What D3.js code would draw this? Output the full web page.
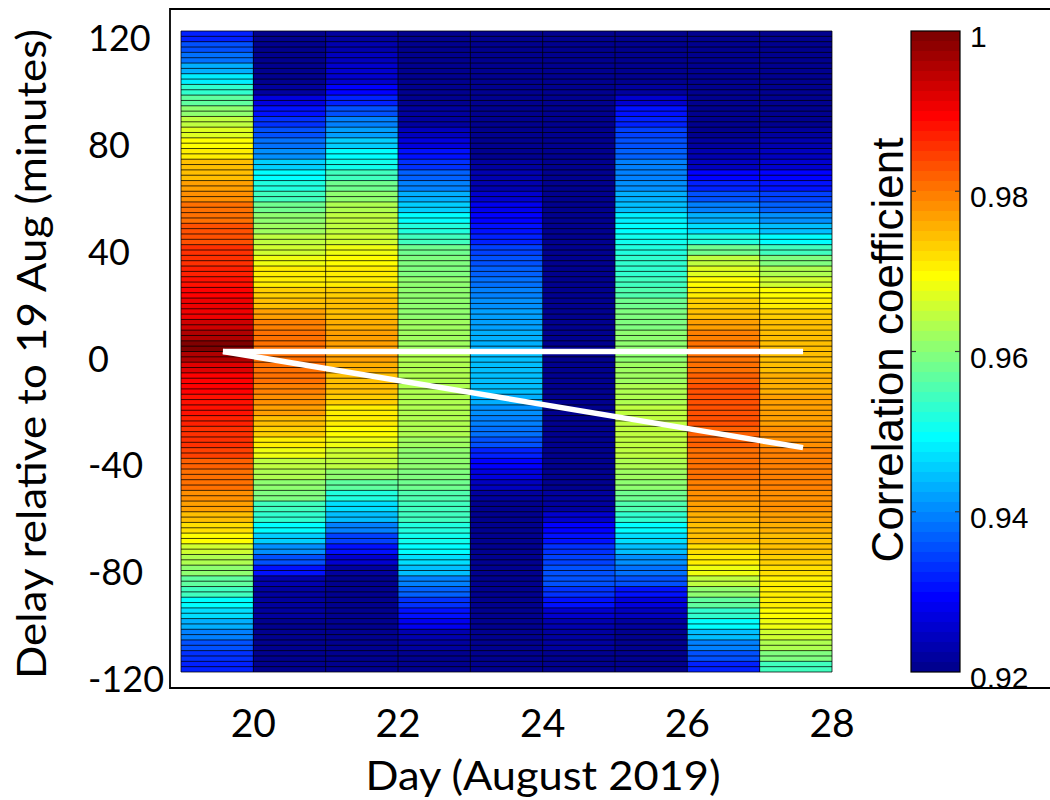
<!DOCTYPE html>
<html>
<head>
<meta charset="utf-8">
<title>Correlation vs delay, August 2019</title>
<script src="https://cdnjs.cloudflare.com/ajax/libs/d3/7.8.5/d3.min.js"></script>
<style>
  body { margin: 0; background: #fff; }
  svg { display: block; }
  .calib { font-family: Lato, "Open Sans", sans-serif; fill: #000; }
  .arial { font-family: "Liberation Sans", Arial, sans-serif; fill: #000; }
</style>
</head>
<body>
<svg id="chart" width="1050" height="800"></svg>
<script>
// left edge of every cell column (day of August 2019), one day wide
var days = [19, 20, 21, 22, 23, 24, 25, 26, 27];
// bottom edge of each 4-minute delay bin
var delays = d3.range(-120, 120, 4);

// correlation coefficient per delay bin, from -120 up to +116 minutes
var aug19 = [0.932,0.933,0.936,0.939,0.943,0.947,0.950,0.954,0.957,0.960,
             0.963,0.966,0.969,0.972,0.975,0.977,0.978,0.980,0.981,0.982,
             0.984,0.985,0.986,0.987,0.988,0.988,0.989,0.989,0.992,0.996,
             0.999,0.996,0.993,0.991,0.990,0.989,0.988,0.987,0.986,0.985,
             0.983,0.983,0.981,0.980,0.978,0.977,0.975,0.974,0.971,0.969,
             0.967,0.964,0.961,0.957,0.953,0.948,0.943,0.938,0.935,0.932];
var aug20 = [0.921,0.921,0.921,0.921,0.921,0.922,0.922,0.922,0.923,0.930,
             0.936,0.941,0.946,0.950,0.953,0.955,0.959,0.961,0.963,0.965,
             0.968,0.971,0.973,0.975,0.977,0.978,0.979,0.980,0.981,0.981,
             0.981,0.980,0.979,0.977,0.975,0.973,0.971,0.970,0.968,0.966,
             0.964,0.962,0.960,0.958,0.955,0.952,0.950,0.946,0.941,0.938,
             0.935,0.933,0.931,0.927,0.922,0.921,0.921,0.921,0.921,0.921];
var aug21 = [0.921,0.921,0.921,0.921,0.921,0.921,0.921,0.921,0.921,0.922,
             0.925,0.930,0.934,0.939,0.944,0.947,0.952,0.957,0.961,0.964,
             0.966,0.968,0.969,0.970,0.971,0.973,0.974,0.975,0.976,0.977,
             0.977,0.977,0.976,0.975,0.974,0.973,0.971,0.970,0.969,0.968,
             0.966,0.965,0.964,0.963,0.961,0.958,0.954,0.951,0.949,0.946,
             0.942,0.939,0.936,0.932,0.929,0.926,0.925,0.924,0.923,0.922];
var aug22 = [0.921,0.921,0.922,0.923,0.928,0.931,0.933,0.937,0.940,0.944,
             0.947,0.950,0.951,0.952,0.954,0.955,0.956,0.958,0.959,0.960,
             0.961,0.962,0.963,0.963,0.963,0.963,0.963,0.963,0.963,0.963,
             0.962,0.962,0.962,0.961,0.961,0.960,0.960,0.959,0.959,0.958,
             0.955,0.952,0.949,0.946,0.943,0.940,0.937,0.933,0.930,0.927,
             0.924,0.922,0.922,0.921,0.921,0.921,0.921,0.921,0.921,0.921];
var aug23 = [0.921,0.921,0.921,0.921,0.921,0.921,0.921,0.921,0.921,0.921,
             0.921,0.921,0.921,0.921,0.921,0.921,0.922,0.924,0.927,0.929,
             0.932,0.935,0.938,0.940,0.941,0.943,0.944,0.944,0.944,0.944,
             0.943,0.943,0.942,0.942,0.941,0.940,0.938,0.937,0.935,0.934,
             0.932,0.931,0.929,0.928,0.925,0.923,0.923,0.922,0.921,0.921,
             0.921,0.921,0.921,0.921,0.921,0.921,0.921,0.921,0.921,0.921];
var aug24 = [0.921,0.921,0.922,0.922,0.923,0.926,0.930,0.933,0.935,0.936,
             0.934,0.933,0.931,0.929,0.925,0.922,0.922,0.921,0.921,0.921,
             0.921,0.921,0.921,0.921,0.921,0.921,0.921,0.921,0.921,0.921,
             0.921,0.921,0.921,0.921,0.921,0.921,0.921,0.921,0.921,0.921,
             0.921,0.921,0.921,0.921,0.921,0.921,0.921,0.921,0.921,0.921,
             0.921,0.921,0.921,0.921,0.921,0.921,0.921,0.921,0.921,0.921];
var aug25 = [0.921,0.921,0.921,0.921,0.922,0.924,0.927,0.931,0.935,0.938,
             0.941,0.944,0.947,0.950,0.953,0.956,0.958,0.960,0.962,0.963,
             0.964,0.964,0.964,0.964,0.964,0.963,0.963,0.962,0.962,0.961,
             0.960,0.960,0.959,0.959,0.958,0.956,0.955,0.953,0.953,0.952,
             0.951,0.950,0.948,0.945,0.943,0.941,0.940,0.939,0.937,0.935,
             0.934,0.932,0.930,0.925,0.922,0.921,0.921,0.921,0.921,0.921];
var aug26 = [0.932,0.935,0.939,0.944,0.949,0.953,0.957,0.961,0.965,0.968,
             0.970,0.972,0.974,0.975,0.976,0.977,0.978,0.979,0.980,0.981,
             0.981,0.982,0.982,0.983,0.983,0.983,0.983,0.982,0.981,0.981,
             0.980,0.979,0.977,0.975,0.973,0.971,0.969,0.967,0.964,0.958,
             0.952,0.947,0.943,0.940,0.935,0.932,0.929,0.924,0.923,0.922,
             0.921,0.921,0.921,0.921,0.921,0.921,0.921,0.921,0.921,0.921];
var aug27 = [0.955,0.959,0.963,0.966,0.968,0.969,0.970,0.971,0.971,0.972,
             0.973,0.974,0.975,0.976,0.977,0.978,0.978,0.979,0.979,0.979,
             0.979,0.978,0.978,0.977,0.977,0.977,0.976,0.976,0.975,0.975,
             0.975,0.974,0.974,0.973,0.971,0.969,0.966,0.963,0.959,0.955,
             0.950,0.945,0.941,0.937,0.934,0.931,0.929,0.926,0.924,0.923,
             0.922,0.921,0.921,0.921,0.921,0.921,0.921,0.921,0.921,0.921];
var columns = [aug19, aug20, aug21, aug22, aug23, aug24, aug25, aug26, aug27];

var dayTicks = [20, 22, 24, 26, 28];
var delayTicks = [120, 80, 40, 0, -40, -80, -120];
var cbTicks = [0.92, 0.94, 0.96, 0.98, 1];
var cbLabels = ["0.92", "0.94", "0.96", "0.98", "1"];

// white trend lines
var lineDays = [19.58, 27.6];
var flatDelay = [0, 0];
var driftDelay = [0, -36];

// matlab jet(64)
function jetColors(m) {
    var n = Math.ceil(m / 4);
    var u = [];
    for (var i = 1; i <= n; i++) u.push(i / n);
    for (var i = 1; i < n; i++) u.push(1);
    for (var i = n; i >= 1; i--) u.push(i / n);
    var g0 = Math.ceil(n / 2) - (m % 4 == 1 ? 1 : 0);
    var out = [];
    for (var k = 1; k <= m; k++) {
        var r = u[k - g0 - n - 1] || 0;
        var g = u[k - g0 - 1] || 0;
        var b = u[k - g0 + n - 1] || 0;
        out.push(d3.rgb(r * 255, g * 255, b * 255).toString());
    }
    return out;
}

var svg = d3.select("#chart");

var x = d3.scaleLinear().domain([19, 28]).range([181, 832]);
var y = d3.scaleLinear().domain([-120, 120]).range([672, 31]);
var color = d3.scaleQuantize().domain([0.92, 1]).range(jetColors(64));

// axes frame
svg.append("path")
    .attr("d", "M1050,9H170V688H1050")
    .attr("fill", "none")
    .attr("stroke", "#000")
    .attr("stroke-width", 1.8);

// heatmap cells
var cells = [];
columns.forEach(function(col, ci) {
    col.forEach(function(v, j) {
        cells.push({ day: days[ci], delay: delays[j], value: v });
    });
});

svg.append("g").selectAll("rect").data(cells).enter()
    .append("rect")
    .attr("x", d => x(d.day))
    .attr("width", d => x(d.day + 1) - x(d.day))
    .attr("y", d => y(d.delay + 4))
    .attr("height", d => y(d.delay) - y(d.delay + 4))
    .attr("fill", d => color(d.value))
    .attr("shape-rendering", "crispEdges");

// pcolor edges, every 2 minutes and every day
var grid = svg.append("g").attr("stroke", "#000").attr("stroke-opacity", 0.75).attr("stroke-width", 1);
grid.selectAll("line.h").data(d3.range(-120, 121, 2)).enter()
    .append("line").attr("class", "h")
    .attr("x1", x(19)).attr("x2", x(28))
    .attr("y1", d => y(d)).attr("y2", d => y(d));
grid.selectAll("line.v").data(d3.range(19, 29)).enter()
    .append("line").attr("class", "v")
    .attr("x1", d => x(d)).attr("x2", d => x(d))
    .attr("y1", y(-120)).attr("y2", y(120));

// trend lines
var line = d3.line().x(d => x(d[0])).y(d => y(d[1]));
[flatDelay, driftDelay].forEach(function(ser) {
    svg.append("path")
        .datum(lineDays.map((d, i) => [d, ser[i]]))
        .attr("d", line)
        .attr("fill", "none")
        .attr("stroke", "#fff")
        .attr("stroke-width", 5.5);
});

// tick labels
svg.append("g").selectAll("text").data(delayTicks).enter()
    .append("text").attr("class", "calib")
    .attr("x", 88).attr("y", d => y(d) + 20)
    .style("font-size", "36px")
    .text(d => d);

svg.append("g").selectAll("text").data(dayTicks).enter()
    .append("text").attr("class", "calib")
    .attr("x", d => x(d)).attr("y", 737)
    .attr("text-anchor", "middle")
    .style("font-size", "39px")
    .text(d => d);

svg.append("text").attr("class", "calib")
    .attr("x", 543).attr("y", 790)
    .attr("text-anchor", "middle")
    .attr("textLength", 355)
    .attr("lengthAdjust", "spacingAndGlyphs")
    .style("font-size", "41px")
    .text("Day (August 2019)");

svg.append("text").attr("class", "calib")
    .attr("transform", "translate(46,354) rotate(-90)")
    .attr("text-anchor", "middle")
    .attr("textLength", 650)
    .attr("lengthAdjust", "spacingAndGlyphs")
    .style("font-size", "41px")
    .text("Delay relative to 19 Aug (minutes)");

// colorbar
var cb = d3.scaleLinear().domain([0.92, 1]).range([672, 31]);
var bins = jetColors(64).map(function(c, i) { return { c: c, lo: 0.92 + i * 0.08 / 64, hi: 0.92 + (i + 1) * 0.08 / 64 }; });
svg.append("g").selectAll("rect").data(bins).enter()
    .append("rect")
    .attr("x", 911).attr("width", 49)
    .attr("y", d => cb(d.hi)).attr("height", d => cb(d.lo) - cb(d.hi))
    .attr("fill", d => d.c)
    .attr("shape-rendering", "crispEdges");
svg.append("rect")
    .attr("x", 911).attr("y", cb(1)).attr("width", 49).attr("height", cb(0.92) - cb(1))
    .attr("fill", "none").attr("stroke", "#000").attr("stroke-width", 1.2);

var cbt = svg.append("g").attr("stroke", "#333").attr("stroke-width", 1.2);
cbTicks.slice(1, 4).forEach(function(t) {
    cbt.append("line").attr("x1", 911).attr("x2", 916).attr("y1", cb(t)).attr("y2", cb(t));
    cbt.append("line").attr("x1", 955).attr("x2", 960).attr("y1", cb(t)).attr("y2", cb(t));
});

svg.append("g").selectAll("text").data(cbTicks).enter()
    .append("text").attr("class", "arial")
    .attr("x", 970).attr("y", d => cb(d) + 16)
    .style("font-size", "30px")
    .text((d, i) => cbLabels[i]);

svg.append("text").attr("class", "arial")
    .attr("transform", "translate(903,350) rotate(-90)")
    .attr("text-anchor", "middle")
    .style("font-size", "44px")
    .text("Correlation coefficient");
</script>
</body>
</html>
